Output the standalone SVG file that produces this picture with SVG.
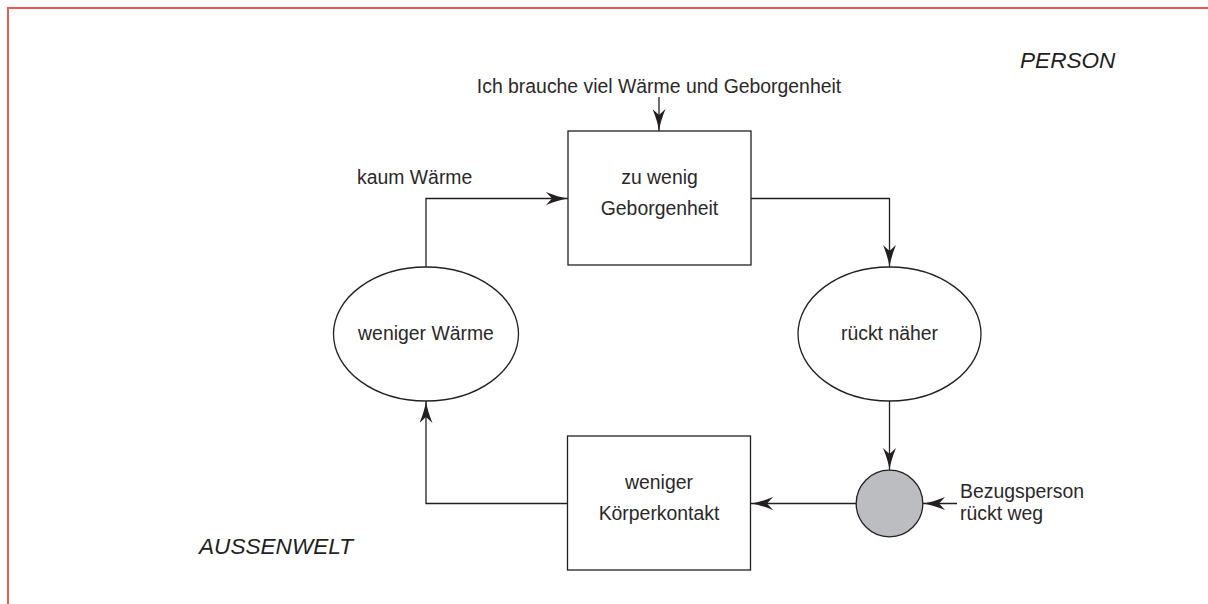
<svg xmlns="http://www.w3.org/2000/svg" width="1208" height="604" viewBox="0 0 1208 604">
  <style>
    .t { font-family: "Liberation Sans", Arial, sans-serif; font-size: 19.4px; fill: #2b2829; }
    .ti { font-family: "Liberation Sans", Arial, sans-serif; font-size: 22.6px; font-style: italic; fill: #231f20; }
    .shape { fill: #ffffff; stroke: #231f20; stroke-width: 1.3; }
    .conn { fill: none; stroke: #231f20; stroke-width: 1.3; }
  </style>
  <defs>
    <marker id="arr" markerUnits="userSpaceOnUse" viewBox="0 0 22 13" refX="22" refY="6.5" markerWidth="22" markerHeight="13" orient="auto">
      <path d="M0,0 Q12,5 22,6.5 Q12,8 0,13 L6,6.5 Z" fill="#231f20"/>
    </marker>
  </defs>
  <rect width="1208" height="604" fill="#ffffff"/>
  <path d="M8,604 V8 H1208" fill="none" stroke="#ec5a52" stroke-width="2"/>

  <g id="label-person"><text class="ti" x="1020" y="68">PERSON</text></g>
  <g id="label-aussenwelt"><text class="ti" x="199" y="554">AUSSENWELT</text></g>

  <g id="connectors">
    <path class="conn" d="M659,97 V131" marker-end="url(#arr)"/>
    <path class="conn" d="M426,267 V198.5 H568" marker-end="url(#arr)"/>
    <path class="conn" d="M751,198.5 H889.5 V267" marker-end="url(#arr)"/>
    <path class="conn" d="M889.5,401 V470" marker-end="url(#arr)"/>
    <path class="conn" d="M856,503.5 H751" marker-end="url(#arr)"/>
    <path class="conn" d="M567.5,503.5 H426 V401" marker-end="url(#arr)"/>
    <path class="conn" d="M957,503.5 H923" marker-end="url(#arr)"/>
  </g>

  <g id="input-top"><text class="t" x="659" y="93" text-anchor="middle">Ich brauche viel Wärme und Geborgenheit</text></g>
  <g id="label-kaum"><text class="t" x="357" y="184">kaum Wärme</text></g>

  <g id="box-zu-wenig">
    <rect class="shape" x="568" y="131" width="183" height="134"/>
    <text class="t" x="659.5" y="184" text-anchor="middle">zu wenig</text>
    <text class="t" x="659.5" y="215" text-anchor="middle">Geborgenheit</text>
  </g>

  <g id="ell-rueckt-naeher">
    <ellipse class="shape" cx="889.5" cy="334" rx="91.5" ry="67"/>
    <text class="t" x="889.5" y="340" text-anchor="middle">rückt näher</text>
  </g>

  <g id="ell-weniger-waerme">
    <ellipse class="shape" cx="426" cy="334" rx="92.5" ry="67"/>
    <text class="t" x="426" y="340" text-anchor="middle">weniger Wärme</text>
  </g>

  <g id="circle-junction">
    <circle cx="889.5" cy="503.5" r="33.3" fill="#bcbdc0" stroke="#231f20" stroke-width="1.3"/>
  </g>

  <g id="input-bezugsperson">
    <text class="t" x="960" y="498">Bezugsperson</text>
    <text class="t" x="960" y="520">rückt weg</text>
  </g>

  <g id="box-koerperkontakt">
    <rect class="shape" x="567.5" y="436" width="183" height="134"/>
    <text class="t" x="659" y="489" text-anchor="middle">weniger</text>
    <text class="t" x="659" y="520" text-anchor="middle">Körperkontakt</text>
  </g>
</svg>
